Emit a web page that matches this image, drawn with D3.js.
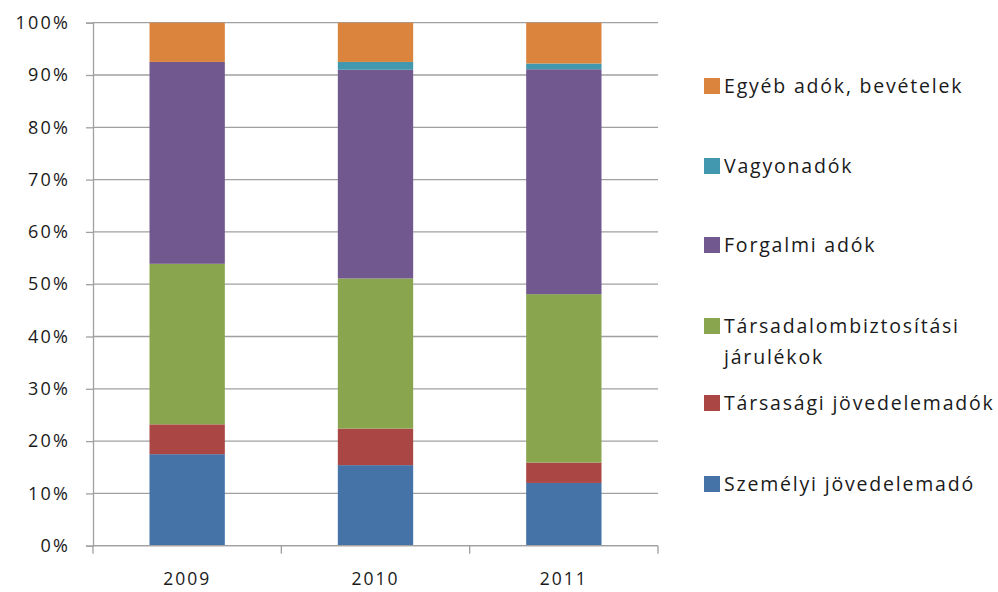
<!DOCTYPE html>
<html>
<head>
<meta charset="utf-8">
<script src="https://cdn.jsdelivr.net/npm/d3@7"></script>
<style>
  html, body { margin: 0; padding: 0; background: #fff; }
  svg { display: block; }
  text { font-family: "Open Sans", "Noto Sans", sans-serif; fill: #1a1a1a; }
</style>
</head>
<body>
<svg id="chart" width="998" height="592"></svg>
<script>
// Years on the x axis
const years = ["2009", "2010", "2011"];

// Share of each revenue type per year (percent), bottom to top of each bar
const szemelyi   = [17.5, 15.4, 12.0];
const tarsasagi  = [5.7, 7.0, 3.9];
const tarsadalom = [30.7, 28.7, 32.2];
const forgalmi   = [38.6, 39.9, 43.0];
const vagyon     = [0.0, 1.5, 1.1];
const egyeb      = [7.5, 7.5, 7.8];

// Series names, stacking order bottom to top
const seriesNames = [
  "Személyi jövedelemadó",
  "Társasági jövedelemadók",
  "Társadalombiztosítási járulékok",
  "Forgalmi adók",
  "Vagyonadók",
  "Egyéb adók, bevételek"
];
const seriesColors = ["#4572A7", "#AA4643", "#89A54E", "#71588F", "#4198AF", "#DB843D"];

// Legend labels are split over lines where they wrap
const legendLines = [
  ["Személyi jövedelemadó"],
  ["Társasági jövedelemadók"],
  ["Társadalombiztosítási", "járulékok"],
  ["Forgalmi adók"],
  ["Vagyonadók"],
  ["Egyéb adók, bevételek"]
];

// Y tick values
const yTicks = [0, 10, 20, 30, 40, 50, 60, 70, 80, 90, 100];

const seriesValues = [szemelyi, tarsasagi, tarsadalom, forgalmi, vagyon, egyeb];
const rows = years.map((y, i) => {
  const r = { year: y };
  seriesNames.forEach((n, k) => { r[n] = seriesValues[k][i]; });
  return r;
});

const svg = d3.select("#chart");
const plot = { left: 93, right: 658, top: 22.7, bottom: 545.7 };

const x = d3.scaleBand()
  .domain(years)
  .range([plot.left, plot.right])
  .paddingInner(0.6)
  .paddingOuter(0.3);

const y = d3.scaleLinear()
  .domain([0, 100])
  .range([plot.bottom, plot.top]);

const gridColor = "#a0a0a0";

// Horizontal gridlines
svg.append("g")
  .selectAll("line")
  .data(yTicks)
  .join("line")
  .attr("x1", plot.left)
  .attr("x2", plot.right)
  .attr("y1", d => y(d))
  .attr("y2", d => y(d))
  .attr("stroke", gridColor)
  .attr("stroke-width", 1.3);

// Stacked bars
const stack = d3.stack().keys(seriesNames);
const layers = stack(rows);

svg.append("g")
  .selectAll("g")
  .data(layers)
  .join("g")
  .attr("fill", (d, i) => seriesColors[i])
  .selectAll("rect")
  .data(d => d)
  .join("rect")
  .attr("x", d => x(d.data.year))
  .attr("width", x.bandwidth())
  .attr("y", d => y(d[1]))
  .attr("height", d => Math.max(0, y(d[0]) - y(d[1])));

// Y axis
const yAxis = d3.axisLeft(y)
  .tickValues(yTicks)
  .tickFormat(d => d + "%")
  .tickSize(7)
  .tickPadding(16);

const gy = svg.append("g")
  .attr("transform", `translate(${plot.left},0)`)
  .call(yAxis);
gy.select(".domain").attr("stroke", gridColor).attr("stroke-width", 1.3);
gy.selectAll(".tick line").attr("stroke", gridColor).attr("stroke-width", 1.3);
gy.selectAll(".tick text")
  .attr("fill", "#1a1a1a")
  .style("font-size", "18px")
  .style("letter-spacing", "2.2px")
  .style("font-family", "\"Open Sans\", sans-serif");

// X axis: category boundary ticks and centred year labels
const boundaries = [plot.left].concat(years.map(yr => x(yr) + x.bandwidth() / 2 + x.step() / 2));
svg.append("line")
  .attr("x1", plot.left).attr("x2", plot.right)
  .attr("y1", plot.bottom).attr("y2", plot.bottom)
  .attr("stroke", gridColor).attr("stroke-width", 1.3);
svg.append("g")
  .selectAll("line")
  .data(boundaries)
  .join("line")
  .attr("x1", d => d).attr("x2", d => d)
  .attr("y1", plot.bottom).attr("y2", plot.bottom + 8)
  .attr("stroke", gridColor).attr("stroke-width", 1.3);

svg.append("g")
  .selectAll("text")
  .data(years)
  .join("text")
  .attr("x", d => x(d) + x.bandwidth() / 2)
  .attr("y", 585)
  .attr("text-anchor", "middle")
  .style("font-size", "17.5px")
  .style("letter-spacing", "2px")
  .text(d => d);

// Legend, top entry is the topmost series
const legendY = [484, 403, 326, 245, 166, 86];
const legend = svg.append("g");
seriesNames.forEach((name, i) => {
  const g = legend.append("g").attr("transform", `translate(704,${legendY[i]})`);
  g.append("rect")
    .attr("x", 0).attr("y", -8)
    .attr("width", 16).attr("height", 16)
    .attr("fill", seriesColors[i]);
  legendLines[i].forEach((line, j) => {
    g.append("text")
      .attr("x", 20)
      .attr("y", j * 31)
      .attr("dy", "0.35em")
      .style("font-size", "19.5px")
      .style("letter-spacing", "1.8px")
      .text(line);
  });
});
</script>
</body>
</html>
